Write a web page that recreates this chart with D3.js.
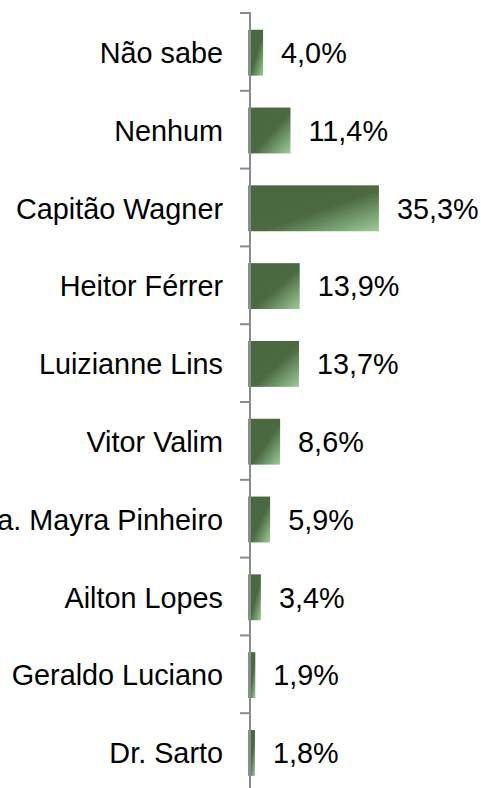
<!DOCTYPE html>
<html>
<head>
<meta charset="utf-8">
<script src="https://cdn.jsdelivr.net/npm/d3@7"></script>
<style>
  html, body { margin: 0; padding: 0; background: #fff; overflow: hidden; }
  svg { display: block; }
  text { font-family: "Liberation Sans", Arial, sans-serif; font-size: 28.8px; fill: #000; }
</style>
</head>
<body>
<svg id="chart"></svg>
<script>
const width = 481;
const height = 788;

// chart data
const candidates = ["Não sabe", "Nenhum", "Capitão Wagner", "Heitor Férrer", "Luizianne Lins",
    "Vitor Valim", "Dra. Mayra Pinheiro", "Ailton Lopes", "Geraldo Luciano", "Dr. Sarto"];
const percents = [4.0, 11.4, 35.3, 13.9, 13.7, 8.6, 5.9, 3.4, 1.9, 1.8];

const svg = d3.select("#chart").attr("width", width).attr("height", height);

// gradient like the original fill
const grad = svg.append("defs").append("linearGradient")
    .attr("id", "barFill")
    .attr("x1", 0).attr("y1", 0).attr("x2", 1).attr("y2", 1);
grad.append("stop").attr("offset", "0%").attr("stop-color", "#4a6840");
grad.append("stop").attr("offset", "55%").attr("stop-color", "#4b6a42");
grad.append("stop").attr("offset", "100%").attr("stop-color", "#9dcd98");

const x = d3.scaleLinear().domain([0, 40]).range([248.3, 248.3 + 3.7 * 40]);
const y = d3.scaleBand().domain(candidates).range([13, 791]).padding(0);
const barH = y.step() * 0.59;
const fmt = v => d3.format(".1f")(v).replace(".", ",") + "%";

const rows = candidates.map((c, i) => ({name: c, value: percents[i]}));

// bars
svg.append("g").selectAll("rect")
    .data(rows)
  .enter().append("rect")
    .attr("x", x(0))
    .attr("y", d => y(d.name) + (y.step() - barH) / 2 + 0.8)
    .attr("width", d => x(d.value) - x(0))
    .attr("height", barH)
    .attr("fill", "url(#barFill)");

// category axis
const axisX = 250;
const axis = svg.append("g").attr("stroke", "#878b94").attr("stroke-width", 2);
axis.append("line")
    .attr("x1", axisX).attr("x2", axisX)
    .attr("y1", y.range()[0] - 1).attr("y2", y.range()[1]);
axis.selectAll(".tick")
    .data(candidates.map(c => y(c)).concat([y.range()[1]]))
  .enter().append("line")
    .attr("x1", axisX - 10).attr("x2", axisX)
    .attr("y1", d => d).attr("y2", d => d);

// category labels
svg.append("g").selectAll("text")
    .data(rows)
  .enter().append("text")
    .attr("x", 223)
    .attr("y", d => y(d.name) + y.step() / 2 + 1)
    .attr("dy", "0.35em")
    .attr("text-anchor", "end")
    .text(d => d.name);

// value labels
svg.append("g").selectAll("text")
    .data(rows)
  .enter().append("text")
    .attr("x", d => x(d.value) + 18)
    .attr("y", d => y(d.name) + y.step() / 2 + 1)
    .attr("dy", "0.35em")
    .text(d => fmt(d.value));
</script>
</body>
</html>
